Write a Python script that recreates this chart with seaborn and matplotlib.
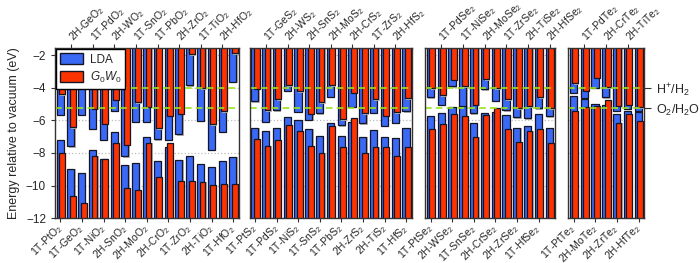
import numpy as np
import matplotlib
matplotlib.use("Agg")
import matplotlib.pyplot as plt
from matplotlib.patches import Patch
import seaborn as sns

# band edges (eV relative to vacuum)
oxide_names = ["1T-PtO2", "2H-GeO2", "1T-GeO2", "1T-PdO2", "1T-NiO2", "2H-WO2", "2H-SnO2",
               "1T-SnO2", "2H-MoO2", "1T-PbO2", "2H-CrO2", "2H-ZrO2", "1T-ZrO2", "1T-TiO2",
               "2H-TiO2", "2H-HfO2", "1T-HfO2"]
oxide_lda_cbm = [-5.65, -7.6, -5.67, -6.53, -7.2, -5.4, -8.2, -6.1, -6.08, -7.16, -7.2, -6.86,
                 -3.84, -6.02, -7.8, -6.69, -3.63]
oxide_gw_cbm = [-4.41, -6.42, -4.02, -5.3, -6.22, -4.75, -7.48, -4.9, -5.16, -6.48, -5.73, -5.61,
                -1.96, -4.04, -6.24, -5.43, -1.9]
oxide_lda_vbm = [-7.2, -9.0, -9.2, -7.82, -8.39, -6.73, -8.75, -8.63, -7.0, -8.47, -7.63, -8.43,
                 -8.18, -8.67, -8.88, -8.51, -8.22]
oxide_gw_vbm = [-8.0, -10.65, -11.08, -8.18, -8.39, -7.41, -10.16, -10.27, -7.39, -9.49, -7.37,
                -9.71, -9.71, -9.8, -9.98, -9.9, -9.9]

sulfide_names = ["1T-PtS2", "1T-GeS2", "1T-PdS2", "2H-WS2", "1T-NiS2", "2H-SnS2", "1T-SnS2",
                 "2H-MoS2", "1T-PbS2", "2H-CrS2", "2H-ZrS2", "1T-ZrS2", "2H-TiS2", "2H-HfS2",
                 "1T-HfS2"]
sulfide_lda_cbm = [-4.84, -6.08, -5.37, -4.2, -5.47, -5.96, -5.57, -4.55, -6.29, -5.16, -6.18,
                   -5.53, -6.33, -6.14, -5.43]
sulfide_gw_cbm = [-4.05, -5.37, -4.7, -3.86, -4.22, -5.61, -4.9, -3.86, -5.94, -4.31, -5.57,
                  -4.71, -5.71, -5.51, -4.65]
sulfide_lda_vbm = [-6.44, -6.63, -6.49, -5.78, -5.98, -6.55, -6.98, -6.14, -6.94, -6.08, -7.04,
                   -6.59, -7.0, -7.06, -6.49]
sulfide_gw_vbm = [-7.16, -7.57, -7.2, -6.29, -6.63, -7.55, -7.98, -6.35, -7.65, -5.88, -8.02,
                  -7.61, -7.65, -8.16, -7.65]

selenide_names = ["1T-PtSe2", "1T-PdSe2", "2H-WSe2", "1T-NiSe2", "1T-SnSe2", "2H-MoSe2",
                  "2H-CrSe2", "1T-ZrSe2", "2H-ZrSe2", "2H-TiSe2", "1T-HfSe2", "2H-HfSe2"]
selenide_lda_cbm = [-4.6, -5.06, -3.9, -5.25, -5.57, -4.1, -4.8, -5.37, -5.82, -5.88, -5.27, -5.76]
selenide_gw_cbm = [-4.04, -4.45, -3.53, -3.9, -5.04, -3.48, -4.04, -4.7, -5.27, -5.14, -4.59, -5.27]
selenide_lda_vbm = [-5.73, -5.57, -5.16, -5.12, -6.18, -5.53, -5.5, -5.7, -6.49, -6.35, -5.59, -6.49]
selenide_gw_vbm = [-6.55, -6.24, -5.63, -5.73, -7.0, -5.67, -5.27, -6.55, -7.31, -6.63, -6.55, -7.41]

telluride_names = ["1T-PtTe2", "1T-PdTe2", "2H-MoTe2", "2H-CrTe2", "2H-ZrTe2", "2H-TiTe2",
                   "2H-HfTe2"]
telluride_lda_cbm = [-4.31, -4.65, -4.0, -4.59, -5.4, -5.3, -5.4]
telluride_gw_cbm = [-3.73, -4.2, -3.38, -3.96, -5.12, -5.06, -5.2]
telluride_lda_vbm = [-4.53, -4.72, -5.0, -5.06, -5.63, -5.4, -5.5]
telluride_gw_vbm = [-5.45, -5.2, -5.1, -4.76, -6.16, -5.6, -6.06]

h_level = -4.03
o_level = -5.26

panels = [
    (oxide_names, oxide_lda_cbm, oxide_gw_cbm, oxide_lda_vbm, oxide_gw_vbm),
    (sulfide_names, sulfide_lda_cbm, sulfide_gw_cbm, sulfide_lda_vbm, sulfide_gw_vbm),
    (selenide_names, selenide_lda_cbm, selenide_gw_cbm, selenide_lda_vbm, selenide_gw_vbm),
    (telluride_names, telluride_lda_cbm, telluride_gw_cbm, telluride_lda_vbm, telluride_gw_vbm),
]

sns.set_style("ticks")
plt.rcParams["font.family"] = ["Liberation Sans", "DejaVu Sans"]
plt.rcParams["mathtext.fontset"] = "custom"
plt.rcParams["mathtext.rm"] = "Liberation Sans"
plt.rcParams["mathtext.it"] = "Liberation Sans:italic"

blue = "#3a6af5"
red = "#ff3300"
edge = "#151525"
shade = "#b4b4b4"
green = "#9be21c"
top, bot = -1.0, -12.6


def label(name):
    return name[:-1] + "$_2$" if name.endswith("2") else name


fig = plt.figure(figsize=(7, 2.63), dpi=100)
lefts = [55, 249.7, 425.3, 568.3]
slot = 10.8
axes = []
for k, (names, lda_c, gw_c, lda_v, gw_v) in enumerate(panels):
    n = len(names)
    ax = fig.add_axes([lefts[k] / 700, 0.17, n * slot / 700, 0.6486])
    axes.append(ax)
    x = np.arange(n)
    lda_c, gw_c = np.array(lda_c), np.array(gw_c)
    lda_v, gw_v = np.array(lda_v), np.array(gw_v)

    for y in [-2, -4, -6, -8, -10]:
        ax.axhline(y, color="#bbbbbb", ls=":", lw=0.9, zorder=0)

    # blue LDA bar sits left, red G0W0 bar overlaps on the right
    for dx, w, col, cbm, vbm, z in [(-0.03, 0.66, blue, lda_c, lda_v, 2),
                                    (0.15, 0.54, red, gw_c, gw_v, 4)]:
        ax.bar(x + dx + 0.11, top - cbm, width=w, bottom=cbm - 0.09, color=shade,
               lw=0, zorder=z - 1)
        ax.bar(x + dx + 0.11, vbm - bot, width=w, bottom=bot, color=shade,
               lw=0, zorder=z - 1)
        ax.bar(x + dx, top - cbm, width=w, bottom=cbm, color=col, edgecolor=edge,
               lw=0.9, zorder=z)
        ax.bar(x + dx, vbm - bot, width=w, bottom=bot, color=col, edgecolor=edge,
               lw=0.9, zorder=z)

    for lev in [h_level, o_level]:
        ax.axhline(lev, color=green, ls=(0, (4, 2.5)), lw=1.2, zorder=6)

    ax.set_xlim(-0.5, n - 0.5)
    ax.set_ylim(-12, -1.55)
    for s in ax.spines.values():
        s.set_color("#333333")
        s.set_linewidth(1.0)
        s.set_zorder(7)

    even = x[::2]
    odd = x[1::2]
    ax.set_xticks(even)
    ax.set_xticklabels([label(names[i]) for i in even], rotation=45, ha="right",
                       va="center", rotation_mode="anchor", fontsize=7.5)
    ax.tick_params(axis="x", direction="out", length=3, width=0.8, pad=3, color="#333333")
    sec = ax.secondary_xaxis("top")
    sec.set_xticks(odd)
    sec.set_xticklabels([label(names[i]) for i in odd], rotation=45, ha="left",
                        va="center", rotation_mode="anchor", fontsize=7.5)
    sec.tick_params(axis="x", direction="out", length=3, width=0.8, pad=3, color="#333333")
    sec.spines["top"].set_visible(False)

    if k == 0:
        ax.set_yticks([-2, -4, -6, -8, -10, -12])
        ax.tick_params(axis="y", direction="out", length=3, width=0.8, labelsize=8.5,
                       color="#333333")
        ax.set_ylabel("Energy relative to vacuum (eV)", fontsize=9)
    elif k == 3:
        ax.set_yticks([h_level, o_level])
        ax.set_yticklabels(["H$^{+}$/H$_2$", "O$_2$/H$_2$O"])
        ax.tick_params(axis="y", left=False, labelleft=False, right=True, labelright=True,
                       direction="out", length=5, width=0.8, labelsize=9, color="#333333")
    else:
        ax.set_yticks([])

handles = [Patch(facecolor=blue, edgecolor=edge, label="LDA"),
           Patch(facecolor=red, edgecolor=edge, label="$G_0W_0$")]
leg = axes[0].legend(handles=handles, loc="upper left", frameon=True, fancybox=False,
                     framealpha=1, edgecolor="black", fontsize=8.5, handlelength=1.9,
                     handleheight=1.1, handletextpad=0.6, borderaxespad=0.1,
                     borderpad=0.35, labelspacing=0.35)
leg.set_zorder(10)
leg.get_frame().set_linewidth(1.0)

fig.savefig("out.png", dpi=100)
